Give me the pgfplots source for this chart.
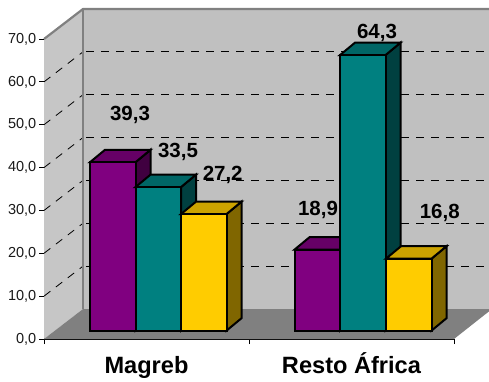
\documentclass[border=0pt]{standalone}
\usepackage{fontspec}
\setmainfont{Liberation Sans}
\usepackage{pgfplots}
\pgfplotsset{compat=1.18}
\definecolor{wallc}{HTML}{C0C0C0}
\definecolor{sidewc}{HTML}{C6C6C6}
\definecolor{floorc}{HTML}{808080}
\definecolor{pF}{HTML}{800080}\definecolor{pT}{HTML}{660066}\definecolor{pS}{HTML}{400040}
\definecolor{tF}{HTML}{008080}\definecolor{tT}{HTML}{006666}\definecolor{tS}{HTML}{004040}
\definecolor{yF}{HTML}{FFCC00}\definecolor{yT}{HTML}{CCA300}\definecolor{yS}{HTML}{806600}
\newcommand{\poly}[2]{\addplot[forget plot,no markers,fill=#1,draw=none] coordinates {#2} --cycle;}
\newcommand{\barbox}[5]{%
 \pgfmathsetmacro\xa{#1}\pgfmathsetmacro\xb{#1+45.5}\pgfmathsetmacro\xc{#1+60.5}\pgfmathsetmacro\xd{#1+15}%
 \pgfmathsetmacro\ya{1.95}\pgfmathsetmacro\yb{#2+1.95}\pgfmathsetmacro\yc{#2+4.85}\pgfmathsetmacro\ye{4.85}%
 \edef\doit{%
 \noexpand\addplot[forget plot,no markers,fill=#5,draw=black,line width=2pt,line join=miter] coordinates {(\xb,\ya)(\xc,\ye)(\xc,\yc)(\xb,\yb)} --cycle;
 \noexpand\addplot[forget plot,no markers,fill=#4,draw=black,line width=2pt,line join=miter] coordinates {(\xa,\yb)(\xb,\yb)(\xc,\yc)(\xd,\yc)} --cycle;
 \noexpand\addplot[forget plot,no markers,fill=#3,draw=black,line width=2pt,line join=miter] coordinates {(\xa,\ya)(\xb,\ya)(\xb,\yb)(\xa,\yb)} --cycle;
 }\doit}
\begin{document}
\begin{tikzpicture}[x=1pt,y=1pt,lbl/.style={font=\fontsize{20.5}{20.5}\selectfont\bfseries,text=black,inner sep=0pt}]
\useasboundingbox (-44,-42) rectangle (445,339);
\begin{axis}[
 anchor=origin, at={(0,0)},
 scale only axis, width=410pt, height=300pt,
 xmin=44, xmax=454, ymin=0, ymax=70,
 clip=false,
 axis x line*=bottom, axis y line*=left,
 axis line style={black,line width=1pt,-},
 tick style={black,line width=1pt},
 tick align=outside,
 major tick length=5pt, minor tick length=5pt,
 ytick={0,10,...,70},
 yticklabel style={font=\fontsize{14.5}{14.5}\selectfont,inner sep=0pt,xshift=-2.5pt,text=black!90,
   /pgf/number format/fixed,/pgf/number format/fixed zerofill,/pgf/number format/precision=1,/pgf/number format/use comma,/pgf/number format/assume math mode=true},
 xtick={146.5,351.5},
 xticklabels={Magreb,Resto África},
 xticklabel style={font=\fontsize{23.6}{23.6}\selectfont\bfseries,inner sep=0pt,text height=17pt,text depth=5pt,yshift=-12pt,text=black},
 major x tick style={draw=none},
 minor xtick={44,249,454},
 minor x tick style={draw=black,line width=1pt},
]
% walls and floor
\poly{sidewc}{(44,0)(83,7)(83,77)(44,70)}
\poly{wallc}{(83,7)(489,7)(489,77)(83,77)}
\poly{floorc}{(44,0)(454,0)(492,7)(83,7)}
% gridlines on the back wall and left wall
\pgfplotsinvokeforeach{10,20,30,40,50,60}{
 \addplot[forget plot,no markers,black,line width=1pt,dash pattern=on 8pt off 7pt] coordinates {(86,#1+7)(489,#1+7)};
 \addplot[forget plot,no markers,black,line width=.8pt,dash pattern=on 8pt off 7pt] coordinates {(44,#1)(83,#1+7)};
}
% wall edges
\addplot[forget plot,no markers,floorc,line width=2.2pt] coordinates {(44,70)(83,77)(489,77)};
\addplot[forget plot,no markers,floorc,line width=2.6pt] coordinates {(83,77)(83,7)};
% bars
\barbox{90}{39.3}{pF}{pT}{pS}
\barbox{135.5}{33.5}{tF}{tT}{tS}
\barbox{181}{27.2}{yF}{yT}{yS}
\barbox{294.5}{18.9}{pF}{pT}{pS}
\barbox{340}{64.3}{tF}{tT}{tS}
\barbox{386}{16.8}{yF}{yT}{yS}
% data labels
\node[lbl] at (axis cs:130,52.3) {39,3};
\node[lbl] at (axis cs:178,43.6) {33,5};
\node[lbl] at (axis cs:222.7,38.3) {27,2};
\node[lbl] at (axis cs:377,71.4) {64,3};
\node[lbl] at (axis cs:318,30.1) {18,9};
\node[lbl] at (axis cs:439.7,29.5) {16,8};
\end{axis}
\end{tikzpicture}
\end{document}
